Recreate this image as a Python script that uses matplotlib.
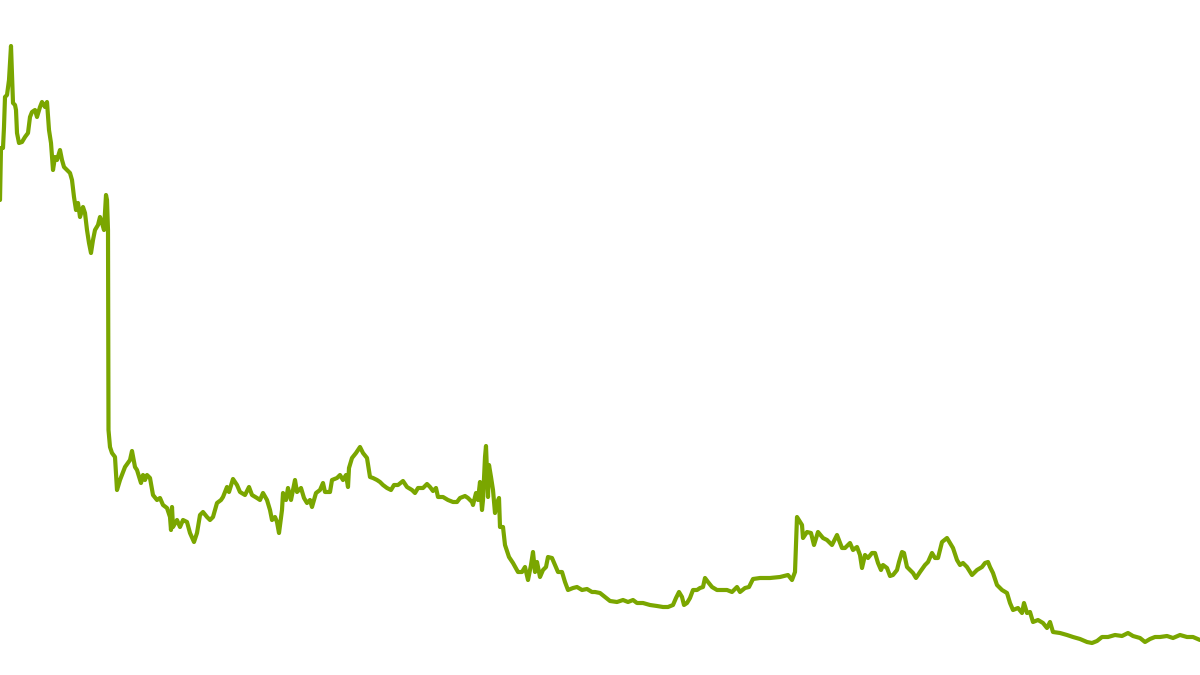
import numpy as np
from matplotlib import pyplot as plt

# series: position along the x axis and value (height above the bottom)
days = [0, 1, 3, 4, 5, 7, 9, 11, 12, 13, 15, 16, 17, 19, 22, 25, 28, 30, 32, 35, 37, 40, 42, 45, 47,
        49, 51, 53, 55, 57, 60, 62, 64, 67, 70, 72, 74, 76, 78, 80, 83, 85, 87, 89, 91, 93, 95, 98,
        100, 102, 104, 106, 107, 108, 108.5, 110, 112, 115, 117, 120, 125, 130, 132, 135, 137, 141,
        143, 145, 147, 150, 153, 157, 160, 163, 167, 170, 171, 172, 173, 177, 180, 183, 187, 190,
        194, 197, 200, 203, 207, 210, 213, 217, 221, 223, 227, 229, 233, 237, 240, 245, 249, 252,
        257, 260, 263, 267, 270, 272, 275, 277, 279, 282, 283, 286, 288, 291, 295, 297, 301, 304,
        307, 310, 312, 316, 320, 323, 325, 330, 332, 337, 340, 343, 346, 348, 349, 352, 356, 360,
        363, 367, 370, 373, 377, 380, 383, 387, 391, 394, 398, 403, 407, 412, 415, 418, 423, 427,
        430, 433, 436, 438, 443, 448, 453, 457, 460, 465, 468, 472, 473, 476, 478, 480, 482, 483,
        485, 486, 488, 489, 491, 493, 495, 497, 499, 500, 503, 505, 509, 513, 518,
        522, 525, 528, 531, 533, 535, 537, 540, 543, 546, 548, 552, 555, 558, 562, 565, 568, 573,
        577, 582, 587, 592, 595, 600, 605, 610, 617, 623, 628, 633, 637, 643, 650, 657, 663, 668,
        673, 676, 679, 682, 684, 687, 690, 693, 697, 700, 703, 705, 708, 712, 717, 722, 727, 732,
        737, 740, 745, 749, 753, 760, 770, 780, 788, 792, 795,
        797, 802, 803, 807, 811, 814, 818, 823, 827, 832, 837, 842, 845, 850, 853, 857, 860, 862,
        865, 868, 872, 875, 878, 881, 883, 887, 890, 893, 897, 899, 902, 904, 907, 910, 913, 916,
        920, 925, 928, 932, 935, 938, 942, 947, 950, 953, 957, 960, 963, 967, 972, 977, 982, 985,
        988, 990, 993, 997, 1002, 1007, 1010, 1013, 1018, 1022, 1024, 1027, 1030, 1033, 1038, 1043,
        1047, 1050, 1053, 1060, 1067, 1073, 1080, 1087, 1092, 1097, 1102, 1108, 1115, 1122, 1128,
        1133, 1140, 1145, 1150, 1155, 1160, 1167, 1173, 1180, 1187, 1193, 1200]

depth = [200, 148, 148, 127, 97, 95, 80, 46, 75, 103, 105, 110, 133, 143, 142, 137, 133, 117, 112,
         110, 117, 107, 102, 107, 102, 130, 143, 170, 157, 160, 150, 160, 167, 170, 173, 180, 197,
         210, 203, 217, 207, 213, 230, 243, 253, 240, 230, 225, 217, 223, 230, 195, 200, 230, 430,
         447, 453, 457, 490, 480, 467, 460, 451, 467, 470, 483, 475, 480, 475, 478, 495, 500, 498,
         505, 508, 517, 530, 507, 527, 520, 527, 520, 522, 533, 542, 533, 515, 512, 517, 520, 517,
         503, 500, 497, 487, 492, 479, 485, 492, 495, 487, 495, 498, 500, 493, 500, 510, 520, 517,
         522, 533, 510, 493, 500, 488, 500, 480, 492, 488, 498, 503, 500, 507, 493, 490, 483, 492,
         492, 480, 478, 475, 480, 475, 487, 468, 458, 453, 447, 453, 458, 477, 478, 480, 482, 485,
         488, 490, 485, 485, 481, 487, 490, 493, 488, 488, 484, 487, 491, 488, 497, 497, 500, 502,
         502, 498, 496, 498, 502, 505, 493, 500, 482, 510, 500, 457, 446, 497, 465, 477, 490, 513,
         503, 498, 527, 527, 545, 557, 563, 572,
         572, 567, 580, 565, 552, 572, 562, 577, 570, 567, 557, 558, 565, 572, 572, 582, 590, 588,
         587, 590, 589, 592, 592, 593, 597, 601, 602, 600, 602, 600, 603, 603, 605, 606, 607, 607,
         605, 598, 592, 597, 605, 603, 598, 590, 590, 588, 587, 578, 582, 587, 590, 590, 590, 592,
         587, 592, 588, 587, 579, 578, 578, 577, 575, 580, 572,
         517, 525, 538, 532, 533, 545, 532, 538, 540, 545, 535, 548, 548, 543, 550, 547, 555, 568,
         555, 558, 553, 553, 563, 570, 565, 568, 576, 575, 570, 562, 552, 553, 567, 570, 573, 578,
         572, 565, 562, 553, 558, 558, 542, 538, 543, 548, 560, 565, 563, 567, 575, 570, 567, 563,
         562, 567, 573, 585, 590, 593, 603, 610, 608, 613, 603, 613, 612, 622, 620, 623,
         628, 622, 632, 633, 635, 637, 639, 642, 643, 641, 637, 637, 635, 636, 633,
         636, 638, 642, 639, 637, 637, 636, 638, 635, 637, 637, 640]

values = 675 - np.array(depth)

fig = plt.figure(figsize=(12, 6.75), dpi=100)
ax = fig.add_axes([0, 0, 1, 1])
ax.plot(days, values, color='#7aa600', lw=3, solid_joinstyle='round', solid_capstyle='round')
ax.set_xlim(0, 1200)
ax.set_ylim(0, 675)
ax.axis('off')
fig.savefig('out.png', dpi=100)
